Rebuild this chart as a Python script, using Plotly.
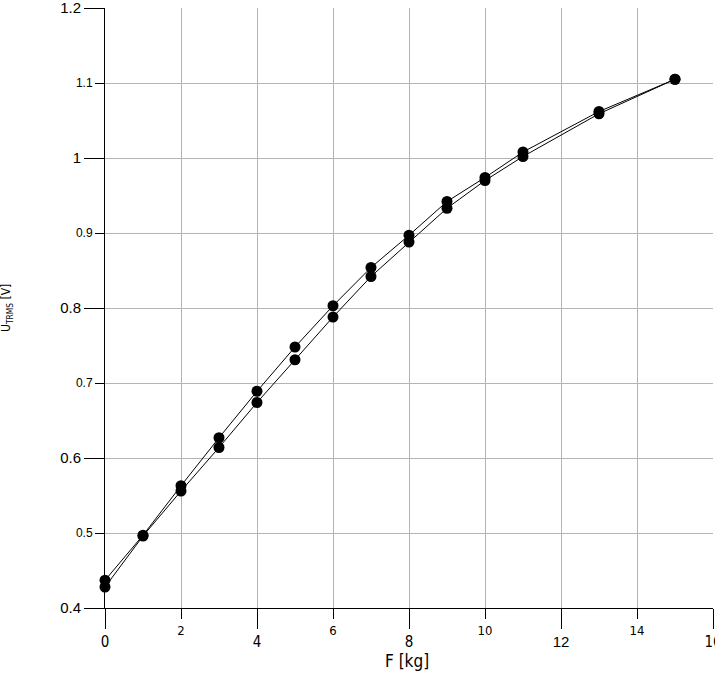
import plotly.graph_objects as go

# load F [kg] vs. measured U_TRMS [V], two measurement runs
force_kg = [0, 1, 2, 3, 4, 5, 6, 7, 8, 9, 10, 11, 13, 15]
u_run_a = [0.437, 0.497, 0.563, 0.627, 0.689, 0.748, 0.803, 0.854,
           0.897, 0.942, 0.974, 1.008, 1.062, 1.105]
u_run_b = [0.428, 0.496, 0.556, 0.614, 0.674, 0.731, 0.788, 0.842,
           0.888, 0.933, 0.970, 1.002, 1.059, 1.105]

# tick labels: long ticks and short ticks alternate on both axes
x_major = [0, 4, 8, 12, 16]
x_major_text = ["0", "4", "8", "<span style='font-family:Liberation Sans'>12</span>", "16"]
x_minor = [2, 6, 10, 14]
x_minor_text = ["2", "6", "10", "14"]
y_major = [0.4, 0.6, 0.8, 1.0, 1.2]
y_major_text = ["0.4", "0.6", "0.8", "1", "1.2"]
y_minor = [0.5, 0.7, 0.9, 1.1]
y_minor_text = ["0.5", "0.7", "0.9", "1.1"]

NARROW = "Liberation Sans Narrow, DejaVu Sans Condensed, sans-serif"
REGULAR = "Liberation Sans, Arial, sans-serif"
GRID = "#b4b4b4"


def axis_style(vals, text, ticklen, font, **kw):
    d = dict(
        tickmode="array", tickvals=vals, ticktext=text,
        ticks="outside", ticklen=ticklen, tickcolor="black", tickwidth=1,
        showgrid=True, gridcolor=GRID, gridwidth=1, zeroline=False,
        tickfont=font, automargin=False, ticklabeloverflow="allow",
    )
    d.update(kw)
    return d


fig = go.Figure()

for u in (u_run_a, u_run_b):
    fig.add_trace(go.Scatter(
        x=force_kg, y=u,
        mode="lines+markers",
        line=dict(color="black", width=1),
        marker=dict(color="black", size=11),
        cliponaxis=False,
        showlegend=False,
    ))

# invisible trace so the overlay axes get drawn
fig.add_trace(go.Scatter(x=[None], y=[None], xaxis="x2", yaxis="y2",
                         showlegend=False, hoverinfo="skip"))

fig.update_layout(
    width=715, height=679,
    margin=dict(l=105, r=2, t=8, b=71),
    template="none",
    paper_bgcolor="white",
    plot_bgcolor="white",
    showlegend=False,
    xaxis=axis_style(x_major, x_major_text, 20,
                     dict(family=NARROW, size=15, color="black"),
                     range=[0, 16], showline=True, linecolor="black", linewidth=1),
    xaxis2=axis_style(x_minor, x_minor_text, 10,
                      dict(family=NARROW, size=13, color="black"),
                      range=[0, 16], overlaying="x", side="bottom", anchor="y",
                      showline=False),
    yaxis=axis_style(y_major, y_major_text, 20,
                     dict(family=REGULAR, size=15, color="black"),
                     range=[0.4, 1.2], showline=True, linecolor="black", linewidth=1),
    yaxis2=axis_style(y_minor, y_minor_text, 9,
                      dict(family=REGULAR, size=12, color="black"),
                      range=[0.4, 1.2], overlaying="y", side="left", anchor="x",
                      showline=False),
    annotations=[
        dict(text="F [kg]", xref="paper", yref="paper",
             x=(407 - 105) / 608, y=-(661 - 608) / 600,
             showarrow=False, xanchor="center", yanchor="middle",
             font=dict(family=NARROW, size=17, color="black")),
        dict(text="U<sub>TRMS</sub> [V]", xref="paper", yref="paper",
             x=-(105 - 7) / 608, y=(608 - 308) / 600, textangle=-90,
             showarrow=False, xanchor="center", yanchor="middle",
             font=dict(family=NARROW, size=12, color="black")),
    ],
)

# drop the browser's default 8px body margin so the figure sits at the page corner
fig.write_html("out.html", config={"displayModeBar": False},
               post_script="document.body.style.margin='0';")
